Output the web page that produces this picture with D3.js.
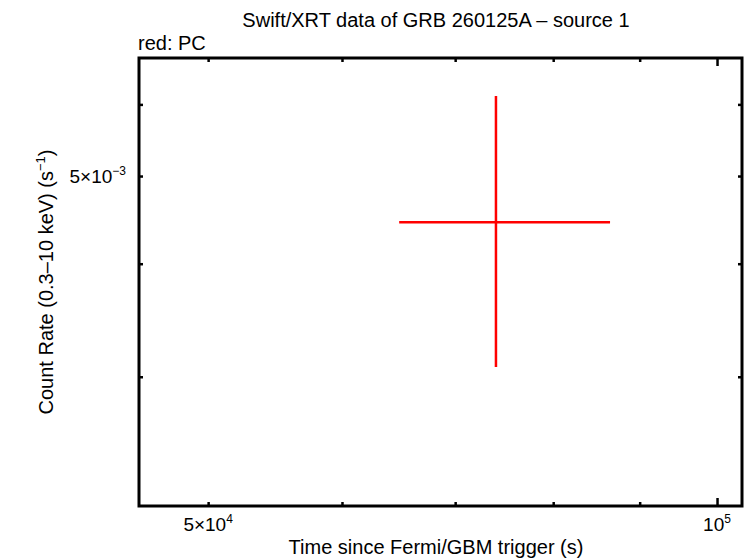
<!DOCTYPE html>
<html>
<head>
<meta charset="utf-8">
<script src="https://cdn.jsdelivr.net/npm/d3@7"></script>
<style>
  body { margin: 0; background: #fff; }
  text { font-family: "Liberation Sans", Arial, sans-serif; fill: #000; }
  .axis path { display: none; }
  .axis line { stroke: #000; stroke-width: 2.5; }
</style>
</head>
<body>
<div id="chart"></div>
<script>
// Data
var pcTime = [74000];
var pcTimeLo = [64860];
var pcTimeHi = [86440];
var pcRate = [4.444e-3];
var pcRateLo = [3.075e-3];
var pcRateHi = [6.13e-3];

// ticks
var xMajorTicks = [1e5];
var xMinorTicks = [5e4, 6e4, 7e4, 8e4, 9e4];
var xTickLabels = [{v: 5e4, base: "5\u00d710", exp: "4"}, {v: 1e5, base: "10", exp: "5"}];
var yTicks = [3e-3, 4e-3, 5e-3, 6e-3];
var yTickLabels = [{v: 5e-3, base: "5\u00d710", exp: "\u22123"}];

var width = 747, height = 558;
var plot = {x0: 139, x1: 742, y0: 58, y1: 506};

var x = d3.scaleLog().domain([45507, 103460]).range([plot.x0, plot.x1]);
var y = d3.scaleLog().domain([2.159e-3, 6.752e-3]).range([plot.y1, plot.y0]);

var svg = d3.select("#chart").append("svg")
  .attr("width", width)
  .attr("height", height);

// axes with ticks on all four sides
function addAxis(axis, tx, ty) {
  svg.append("g").attr("class", "axis")
    .attr("transform", "translate(" + tx + "," + ty + ")")
    .call(axis);
}
addAxis(d3.axisTop(x).tickValues(xMinorTicks).tickSize(4).tickFormat(""), 0, plot.y1);
addAxis(d3.axisTop(x).tickValues(xMajorTicks).tickSize(8).tickFormat(""), 0, plot.y1);
addAxis(d3.axisBottom(x).tickValues(xMinorTicks).tickSize(4).tickFormat(""), 0, plot.y0);
addAxis(d3.axisBottom(x).tickValues(xMajorTicks).tickSize(8).tickFormat(""), 0, plot.y0);
addAxis(d3.axisRight(y).tickValues(yTicks).tickSize(4).tickFormat(""), plot.x0, 0);
addAxis(d3.axisLeft(y).tickValues(yTicks).tickSize(4).tickFormat(""), plot.x1, 0);

// frame
svg.append("rect")
  .attr("x", plot.x0).attr("y", plot.y0)
  .attr("width", plot.x1 - plot.x0).attr("height", plot.y1 - plot.y0)
  .attr("fill", "none").attr("stroke", "#000").attr("stroke-width", 3);

// tick labels
svg.selectAll(".xlab").data(xTickLabels).enter().append("text")
  .attr("x", function(d) { return x(d.v); })
  .attr("y", 531)
  .attr("text-anchor", "middle")
  .style("font-size", "19px")
  .each(function(d) {
    var t = d3.select(this);
    t.append("tspan").text(d.base);
    t.append("tspan").attr("dy", -8).style("font-size", "12px").text(d.exp);
  });

svg.selectAll(".ylab").data(yTickLabels).enter().append("text")
  .attr("x", 126)
  .attr("y", function(d) { return y(d.v) + 7; })
  .attr("text-anchor", "end")
  .style("font-size", "19px")
  .each(function(d) {
    var t = d3.select(this);
    t.append("tspan").text(d.base);
    t.append("tspan").attr("dy", -8).style("font-size", "12px").text(d.exp);
  });

// titles
svg.append("text")
  .attr("x", 436).attr("y", 27)
  .attr("text-anchor", "middle")
  .style("font-size", "20px")
  .text("Swift/XRT data of GRB 260125A \u2013 source 1");

svg.append("text")
  .attr("x", plot.x0 - 1).attr("y", 50)
  .style("font-size", "20px")
  .text("red: PC");

svg.append("text")
  .attr("x", 436).attr("y", 554)
  .attr("text-anchor", "middle")
  .style("font-size", "20px")
  .text("Time since Fermi/GBM trigger (s)");

var ylab = svg.append("text")
  .attr("transform", "translate(53,282) rotate(-90)")
  .attr("text-anchor", "middle")
  .style("font-size", "20px");
ylab.append("tspan").text("Count Rate (0.3\u201310 keV) (s");
ylab.append("tspan").attr("dy", -8).style("font-size", "13px").text("\u22121");
ylab.append("tspan").attr("dy", 8).text(")");

// error bars
var pts = pcTime.map(function(t, i) {
  return {t: t, tlo: pcTimeLo[i], thi: pcTimeHi[i], r: pcRate[i], rlo: pcRateLo[i], rhi: pcRateHi[i]};
});

var g = svg.append("g").attr("stroke", "#f00").attr("stroke-width", 2.5);
g.selectAll(".xerr").data(pts).enter().append("line")
  .attr("x1", function(d) { return x(d.tlo); })
  .attr("x2", function(d) { return x(d.thi); })
  .attr("y1", function(d) { return y(d.r); })
  .attr("y2", function(d) { return y(d.r); });
g.selectAll(".yerr").data(pts).enter().append("line")
  .attr("x1", function(d) { return x(d.t); })
  .attr("x2", function(d) { return x(d.t); })
  .attr("y1", function(d) { return y(d.rlo); })
  .attr("y2", function(d) { return y(d.rhi); });
</script>
</body>
</html>
